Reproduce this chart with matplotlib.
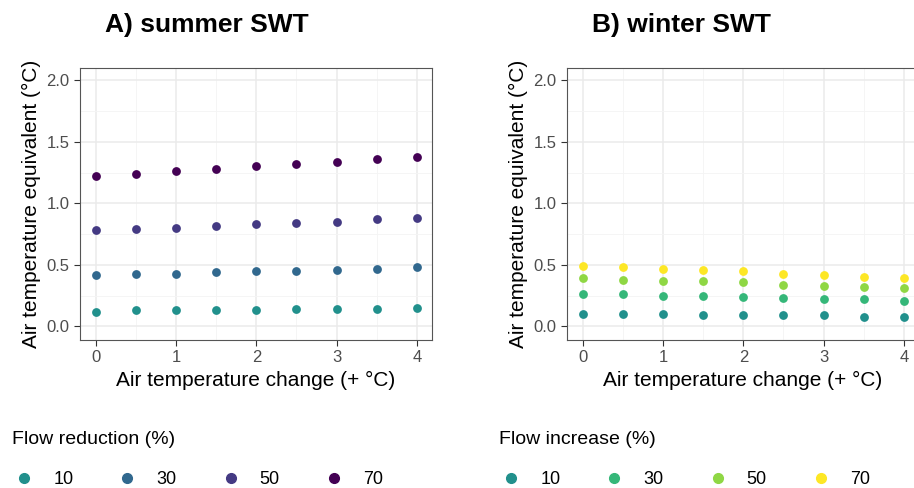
import matplotlib
matplotlib.use("Agg")
import matplotlib.pyplot as plt
from matplotlib.lines import Line2D

x = [0, 0.5, 1, 1.5, 2, 2.5, 3, 3.5, 4]
levels = ["10", "30", "50", "70"]
summer = {
    "10": [0.12, 0.13, 0.13, 0.13, 0.13, 0.14, 0.14, 0.14, 0.15],
    "30": [0.42, 0.43, 0.43, 0.44, 0.45, 0.45, 0.46, 0.47, 0.48],
    "50": [0.78, 0.79, 0.80, 0.82, 0.83, 0.84, 0.85, 0.87, 0.88],
    "70": [1.22, 1.24, 1.26, 1.28, 1.30, 1.32, 1.34, 1.36, 1.38],
}
winter = {
    "10": [0.10, 0.10, 0.10, 0.09, 0.09, 0.09, 0.09, 0.08, 0.08],
    "30": [0.26, 0.26, 0.25, 0.25, 0.24, 0.23, 0.22, 0.22, 0.21],
    "50": [0.39, 0.38, 0.37, 0.37, 0.36, 0.34, 0.33, 0.32, 0.31],
    "70": [0.49, 0.48, 0.47, 0.46, 0.45, 0.43, 0.42, 0.40, 0.39],
}
col_s = ["#21908C", "#31688E", "#443A83", "#440154"]
col_w = ["#21908C", "#35B779", "#8FD744", "#FDE725"]

plt.rcParams['font.family'] = ['Liberation Sans', 'DejaVu Sans']
fig = plt.figure(figsize=(9.14, 4.88), dpi=100)
W, H = 914, 488
panels = [
    (80, summer, col_s, "A) summer SWT", "Flow reduction (%)"),
    (567, winter, col_w, "B) winter SWT", "Flow increase (%)"),
]
for left, data, cols, title, ltitle in panels:
    ax = fig.add_axes([left / W, (H - 340) / H, 352 / W, 272 / H])
    for lv, c in zip(levels, cols):
        ax.scatter(x, data[lv], s=40, color=c, zorder=3, linewidths=0)
    ax.set_xlim(-0.2, 4.19)
    ax.set_ylim(-0.11, 2.1)
    ax.set_xticks([0, 1, 2, 3, 4])
    ax.set_yticks([0, 0.5, 1.0, 1.5, 2.0])
    ax.set_yticklabels(["0.0", "0.5", "1.0", "1.5", "2.0"])
    ax.set_xticks([0.5, 1.5, 2.5, 3.5], minor=True)
    ax.set_yticks([0.25, 0.75, 1.25, 1.75], minor=True)
    ax.grid(True, which='major', color='#EBEBEB', lw=1.1)
    ax.grid(True, which='minor', color='#F4F4F4', lw=0.6)
    ax.set_axisbelow(True)
    for sp in ax.spines.values():
        sp.set_color('#555555'); sp.set_linewidth(0.8)
    ax.tick_params(which='major', labelsize=12, colors='#4D4D4D', length=4, color='#333333')
    ax.tick_params(which='minor', length=0)
    ax.set_xlabel("Air temperature change (+ °C)", fontsize=15)
    ax.set_ylabel("Air temperature equivalent (°C)", fontsize=15)
    fig.text((left + 25) / W, 1 - 25 / H, title, fontsize=19, fontweight='bold', va='center')
    fig.text((left - 68) / W, 1 - 440 / H, ltitle, fontsize=14, va='center')
    handles = [Line2D([], [], marker='o', ls='', color=c, markersize=7) for c in cols]
    fig.legend(handles, levels, loc='center left', bbox_to_anchor=((left - 90) / W, 1 - 480 / H),
               ncol=4, frameon=False, fontsize=13, columnspacing=2.0, handletextpad=0.6)
fig.savefig("out.png", dpi=100)
